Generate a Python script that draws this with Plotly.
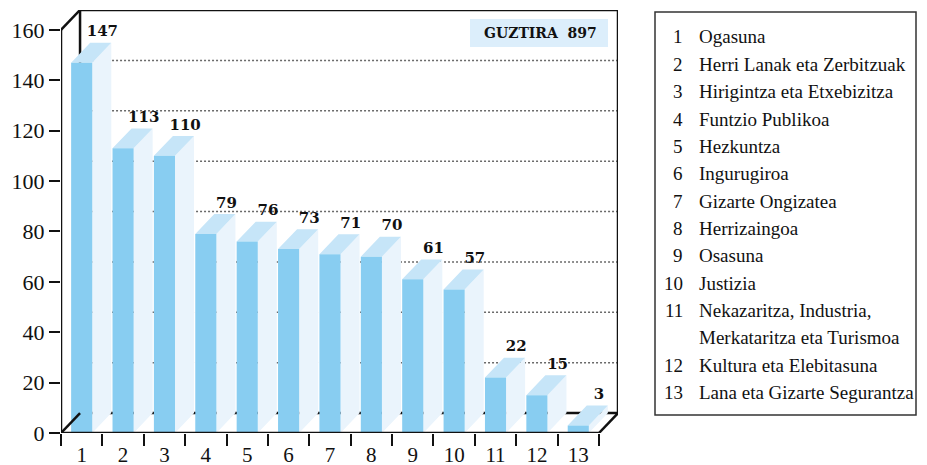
import plotly.graph_objects as go

# ---------------- data ----------------
CATEGORIES = ["1", "2", "3", "4", "5", "6", "7", "8", "9", "10", "11", "12", "13"]
VALUES = [147, 113, 110, 79, 76, 73, 71, 70, 61, 57, 22, 15, 3]
LEGEND_NAMES = [
    "Ogasuna",
    "Herri Lanak eta Zerbitzuak",
    "Hirigintza eta Etxebizitza",
    "Funtzio Publikoa",
    "Hezkuntza",
    "Ingurugiroa",
    "Gizarte Ongizatea",
    "Herrizaingoa",
    "Osasuna",
    "Justizia",
    "Nekazaritza, Industria,\nMerkataritza eta Turismoa",
    "Kultura eta Elebitasuna",
    "Lana eta Gizarte Segurantza",
]
Y_TICKS = [0, 20, 40, 60, 80, 100, 120, 140, 160]
GRID_VALUES = [20, 40, 60, 80, 100, 120, 140]
TOTAL_LABEL = "GUZTIRA"
TOTAL_VALUE = 897

# ---------------- style / geometry ----------------
OFF = 8                                    # page body margin
W, H = 927 - OFF, 465 - OFF                # figure size
PL, PR, PT, PB = 61, 618, 10, 433          # plot area in page pixels
DX = 0.46                                  # depth offset (category units)
DY = 7.9                                   # depth offset (value units)
HW = 0.255                                 # half width of bar front face
YMAX = 160
FRONT = "#88CDF1"
TOP = "#C6E5F8"
SIDE = "#EAF4FC"
SERIF = "Liberation Serif, 'Times New Roman', Times, serif"
BOLD = "'DejaVu Serif', 'Liberation Serif', serif"

n = len(CATEGORIES)
xs = list(range(1, n + 1))


def px_x(p):
    return (p - PL) / (PR - PL)


def px_y(p):
    return (PB - p) / (PB - PT)


fig = go.Figure()

# bar faces
side_x, side_y, top_x, top_y, fr_x, fr_y = [], [], [], [], [], []
for i, v in zip(xs, VALUES):
    side_x += [i + HW, i + HW + DX, i + HW + DX, i + HW, i + HW, None]
    side_y += [0, DY, v + DY, v, 0, None]
    top_x += [i - HW, i + HW, i + HW + DX, i - HW + DX, i - HW, None]
    top_y += [v, v, v + DY, v + DY, v, None]
    fr_x += [i - HW, i + HW, i + HW, i - HW, i - HW, None]
    fr_y += [0, 0, v, v, 0, None]

for fx, fy, col in [(side_x, side_y, SIDE), (top_x, top_y, TOP), (fr_x, fr_y, FRONT)]:
    fig.add_trace(go.Scatter(x=fx, y=fy, mode="lines", fill="toself", fillcolor=col,
                             line=dict(width=0, color=col), hoverinfo="skip",
                             showlegend=False))

# value labels
fig.add_trace(go.Scatter(
    x=[i + DX + 0.04 for i in xs], y=[v + DY + 4.0 for v in VALUES],
    mode="text", text=[str(v) for v in VALUES],
    textfont=dict(family=BOLD, size=15, color="#111", weight="bold"),
    textposition="middle center", hoverinfo="skip", showlegend=False))

shapes = []
# gridlines on the back wall
for g in GRID_VALUES:
    shapes.append(dict(type="line", xref="x", yref="y", layer="below",
                       x0=0.5 + DX, x1=n + 0.5 + DX, y0=g + DY, y1=g + DY,
                       line=dict(color="#6a6a6a", width=1.5, dash="2px,2px")))

FL = dict(color="#111", width=2.5)
# back lines (behind bars)
back = [
    (0.5 + DX, DY, 0.5 + DX, YMAX + DY),
    (0.5 + DX, DY, n + 0.5 + DX, DY),
]
for x0, y0, x1, y1 in back:
    shapes.append(dict(type="line", xref="x", yref="y", layer="below",
                       x0=x0, y0=y0, x1=x1, y1=y1, line=FL))
# front/outer lines
front = [
    (0.5, 0, 0.5, YMAX),
    (0.5, YMAX, 0.5 + DX, YMAX + DY),
    (0.5 + DX, YMAX + DY, n + 0.5 + DX, YMAX + DY),
    (n + 0.5 + DX, YMAX + DY, n + 0.5 + DX, DY),
    (0.5, 0, 0.5 + DX, DY),
    (n + 0.5, 0, n + 0.5 + DX, DY),
    (0.5, 0, n + 0.5, 0),
]
for x0, y0, x1, y1 in front:
    shapes.append(dict(type="line", xref="x", yref="y", layer="above",
                       x0=x0, y0=y0, x1=x1, y1=y1, line=FL))

# total box
shapes.append(dict(type="rect", xref="paper", yref="paper", layer="above",
                   x0=px_x(470), x1=px_x(608), y0=px_y(47), y1=px_y(19),
                   fillcolor="#DCEEFB", line=dict(width=0)))
# legend box
shapes.append(dict(type="rect", xref="paper", yref="paper", layer="above",
                   x0=px_x(655), x1=px_x(916), y0=px_y(415), y1=px_y(12),
                   fillcolor="rgba(0,0,0,0)", line=dict(color="#333", width=1.5)))

annotations = [dict(xref="paper", yref="paper", x=px_x(540), y=px_y(33),
                    text=f"{TOTAL_LABEL}  {TOTAL_VALUE}", showarrow=False,
                    font=dict(family=BOLD, size=14, color="#111", weight="bold"),
                    xanchor="center", yanchor="middle")]

row = 0
ROW0, ROWH = 37, 27.35
for k, name in enumerate(LEGEND_NAMES):
    lines = name.split("\n")
    annotations.append(dict(xref="paper", yref="paper", x=px_x(685), y=px_y(ROW0 + row * ROWH),
                            text=CATEGORIES[k], showarrow=False, xanchor="right", yanchor="middle",
                            font=dict(family=SERIF, size=19, color="#111")))
    for ln in lines:
        annotations.append(dict(xref="paper", yref="paper", x=px_x(697), y=px_y(ROW0 + row * ROWH),
                                text=ln, showarrow=False, xanchor="left", yanchor="middle",
                                font=dict(family=SERIF, size=19, color="#111")))
        row += 1

fig.update_layout(
    width=W, height=H,
    margin=dict(l=PL - OFF, r=(W + OFF) - PR, t=PT - OFF, b=(H + OFF) - PB, autoexpand=False),
    paper_bgcolor="white", plot_bgcolor="white",
    showlegend=False,
    shapes=shapes, annotations=annotations,
    xaxis=dict(range=[0.5, n + 0.5 + DX], showgrid=False, zeroline=False, showline=False,
               automargin=False,
               tickmode="array", tickvals=xs, ticktext=CATEGORIES,
               ticks="outside", ticklen=3, tickcolor="rgba(0,0,0,0)",
               tickfont=dict(family=SERIF, size=21, color="#111"),
               minor=dict(tickmode="array", tickvals=[i + 0.5 for i in range(0, n + 1)],
                          ticks="outside", ticklen=12, tickwidth=2, tickcolor="#111",
                          showgrid=False)),
    yaxis=dict(range=[0, YMAX + DY], showgrid=False, zeroline=False, showline=False,
               automargin=False,
               tickmode="array", tickvals=Y_TICKS, ticks="outside", ticklen=11,
               tickwidth=2, tickcolor="#111",
               tickfont=dict(family=SERIF, size=22, color="#111")),
)

fig.write_html("out.html")
